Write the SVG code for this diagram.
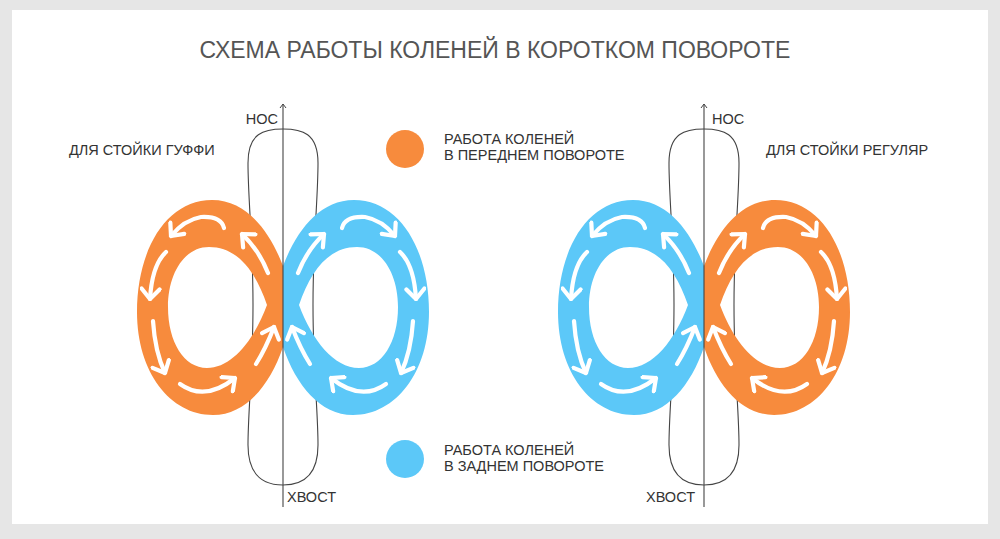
<svg xmlns="http://www.w3.org/2000/svg" xmlns:xlink="http://www.w3.org/1999/xlink" width="1000" height="539" viewBox="0 0 1000 539">
<style>
.txt{font-family:"Liberation Sans",Arial,sans-serif;fill:#333;font-size:14.5px}
.title{font-family:"Liberation Sans",Arial,sans-serif;fill:#555;font-size:23px}
.board{fill:none;stroke:#444;stroke-width:1.1}
.axis{stroke:#444;stroke-width:1.1;fill:none}
.arr{fill:none;stroke:#fff;stroke-width:4.2;stroke-linecap:round}
.org{fill:#F78B3D}
.blu{fill:#5CC8F8}
</style>
<defs>
<marker id="ah" viewBox="-13 -11 15 22" refX="0" refY="0" markerWidth="15" markerHeight="22" markerUnits="userSpaceOnUse" orient="auto">
<path d="M -10 -9 L 0 0 L -10 9" fill="none" stroke="#fff" stroke-width="4.2" stroke-linecap="round" stroke-linejoin="round"/>
</marker>
<marker id="axh" viewBox="-6 -5 7 10" refX="0" refY="0" markerWidth="7" markerHeight="10" markerUnits="userSpaceOnUse" orient="auto">
<path d="M -4 -3 L 0 0 L -4 3" fill="none" stroke="#444" stroke-width="1"/>
</marker>
<path id="board" d="M 283 129 C 302 129 318 133 318 163 C 318 200 313 240 313 305 C 313 370 318 410 318 445 C 318 476 302 485 283 485 C 264 485 248 476 248 445 C 248 410 253 370 253 305 C 253 240 248 200 248 163 C 248 133 264 129 283 129 Z"/>
<path id="loop" fill-rule="evenodd" d="M 283 266 C 270 232 247 200 212 200 C 166 200 137 250 137 312 C 137 372 170 415 213 415 C 246 415 270 385 283 347 Z M 267 305 C 255 270 237 247 209 247 C 184 247 168 274 168 307 C 168 342 184 368 207 368 C 232 368 254 340 267 305 Z"/>
<g id="arrows">
<path class="arr" marker-end="url(#ah)" d="M 224 228 Q 221 216 201 217 Q 184 220 171 236"/>
<path class="arr" marker-end="url(#ah)" d="M 166 252 Q 152 265 150 299"/>
<path class="arr" marker-end="url(#ah)" d="M 268 273 Q 259 250 242 234"/>
<path class="arr" marker-end="url(#ah)" d="M 153 321 Q 155 352 165 373"/>
<path class="arr" marker-end="url(#ah)" d="M 180 384 Q 205 402 235 378"/>
<path class="arr" marker-end="url(#ah)" d="M 256 364 Q 266 348 274 327"/>
</g>
</defs>
<rect x="0" y="0" width="1000" height="539" fill="#e6e6e6"/>
<rect x="12" y="10" width="976" height="514" fill="#fff"/>
<g id="title"><text class="title" x="495" y="58" text-anchor="middle">СХЕМА РАБОТЫ КОЛЕНЕЙ В КОРОТКОМ ПОВОРОТЕ</text></g>

<g id="board-goofy"><use xlink:href="#board" class="board"/></g>
<g id="board-regular"><use xlink:href="#board" class="board" transform="translate(421 0)"/></g>

<g id="goofy-front-loop">
<use xlink:href="#loop" class="org"/>
<use xlink:href="#arrows"/>
</g>
<g id="goofy-back-loop" transform="matrix(-1 0 0 1 566 0)">
<use xlink:href="#loop" class="blu"/>
<use xlink:href="#arrows"/>
</g>
<g id="regular-back-loop" transform="translate(421 0)">
<use xlink:href="#loop" class="blu"/>
<use xlink:href="#arrows"/>
</g>
<g id="regular-front-loop" transform="matrix(-1 0 0 1 987 0)">
<use xlink:href="#loop" class="org"/>
<use xlink:href="#arrows"/>
</g>

<g id="connectors">
<line class="axis" x1="283" y1="507" x2="283" y2="104" marker-end="url(#axh)"/>
<line class="axis" x1="704" y1="507" x2="704" y2="104" marker-end="url(#axh)"/>
</g>

<g id="labels-goofy">
<text class="txt" x="69" y="155">ДЛЯ СТОЙКИ ГУФФИ</text>
<text class="txt" x="278" y="124" text-anchor="end">НОС</text>
<text class="txt" x="287" y="502">ХВОСТ</text>
</g>
<g id="labels-regular">
<text class="txt" x="766" y="155">ДЛЯ СТОЙКИ РЕГУЛЯР</text>
<text class="txt" x="712" y="124">НОС</text>
<text class="txt" x="695" y="502" text-anchor="end">ХВОСТ</text>
</g>

<g id="legend-front">
<circle cx="405" cy="149" r="19" class="org"/>
<text class="txt" x="444" y="144">РАБОТА КОЛЕНЕЙ</text>
<text class="txt" x="444" y="160">В ПЕРЕДНЕМ ПОВОРОТЕ</text>
</g>
<g id="legend-back">
<circle cx="405" cy="459" r="19" class="blu"/>
<text class="txt" x="444" y="455">РАБОТА КОЛЕНЕЙ</text>
<text class="txt" x="444" y="471">В ЗАДНЕМ ПОВОРОТЕ</text>
</g>
</svg>
